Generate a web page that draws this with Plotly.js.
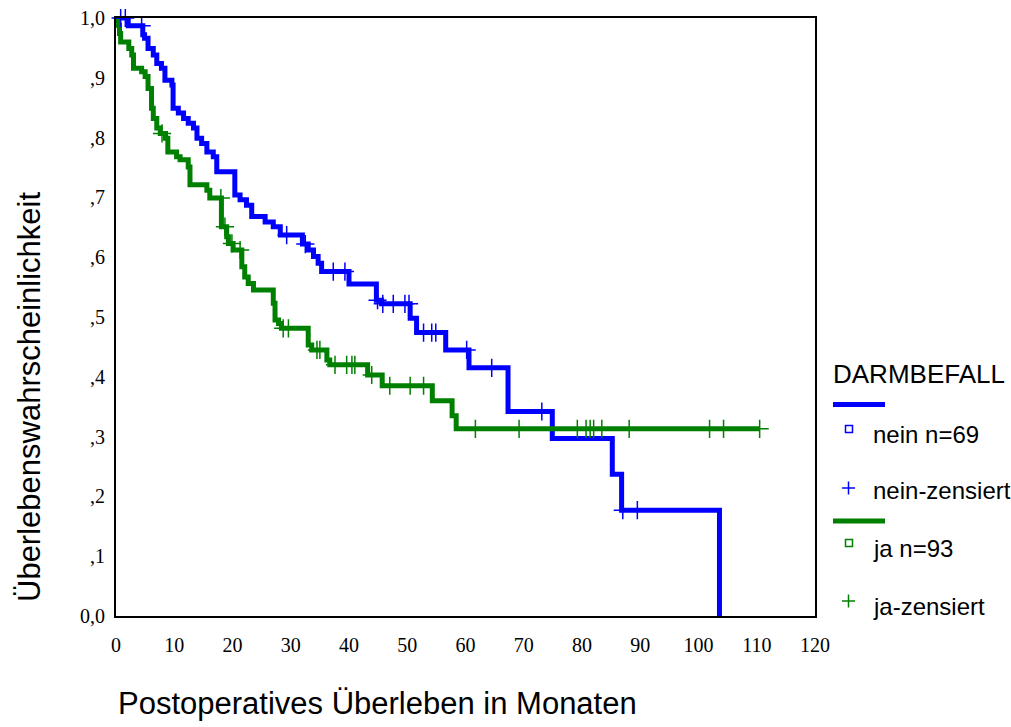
<!DOCTYPE html>
<html><head><meta charset="utf-8">
<script src="https://cdn.plot.ly/plotly-3.0.1.min.js"></script>
<style>html,body{margin:0;padding:0;background:#fff;overflow:hidden}#chart{width:1011px;height:727px}</style>
</head><body><div id="chart"></div>
<script>
// Kaplan-Meier: DARMBEFALL = nein (n=69)
const neinTime = [0, 2.1, 4.6, 4.9, 5.5, 6.4, 7.0, 7.8, 8.4, 9.6, 9.8, 10.7, 11.6, 12.4, 13.3, 13.9, 14.7, 15.6, 16.7, 17.3, 20.4, 21.3, 22.4, 23.3, 25.6, 27.0, 28.2, 32.0, 33.0, 33.9, 34.7, 35.3, 40.0, 44.7, 45.6, 50.5, 51.6, 56.6, 60.6, 67.3, 74.9, 85.2, 86.8, 103.6];
const neinSurv = [1.0, 0.987, 0.972, 0.966, 0.949, 0.938, 0.924, 0.916, 0.896, 0.888, 0.849, 0.841, 0.832, 0.824, 0.816, 0.799, 0.790, 0.776, 0.768, 0.743, 0.704, 0.696, 0.687, 0.668, 0.659, 0.651, 0.637, 0.622, 0.612, 0.601, 0.590, 0.576, 0.555, 0.528, 0.522, 0.498, 0.474, 0.445, 0.415, 0.342, 0.297, 0.237, 0.177, 0.0];
const neinCensor = [0.8, 1.6, 4.4, 29.3, 32.5, 37.3, 39.3, 44.9, 45.8, 47.6, 49.6, 50.3, 52.8, 54.2, 54.9, 60.2, 64.5, 73.1, 87.0, 89.5];

// DARMBEFALL = ja (n=93)
const jaTime = [0, 0.4, 0.6, 0.8, 2.2, 2.7, 3.0, 4.4, 5.0, 5.5, 6.1, 6.4, 7.0, 7.6, 8.5, 8.9, 10.4, 11.0, 12.4, 12.7, 15.6, 16.1, 18.1, 19.0, 19.3, 20.1, 21.6, 22.1, 22.7, 23.6, 27.0, 27.3, 27.9, 28.4, 33.0, 33.6, 36.2, 36.7, 43.2, 45.7, 54.3, 57.7, 58.4];
const jaSurv = [1.0, 0.988, 0.974, 0.960, 0.949, 0.938, 0.916, 0.910, 0.902, 0.882, 0.849, 0.832, 0.816, 0.807, 0.799, 0.776, 0.768, 0.763, 0.751, 0.721, 0.712, 0.699, 0.651, 0.634, 0.623, 0.612, 0.584, 0.567, 0.556, 0.545, 0.523, 0.495, 0.489, 0.481, 0.453, 0.445, 0.428, 0.420, 0.403, 0.385, 0.360, 0.335, 0.313];
const jaCensor = [7.9, 18.0, 18.7, 19.9, 21.3, 28.7, 29.6, 34.5, 35.0, 37.6, 39.6, 40.5, 41.0, 43.9, 47.0, 50.5, 52.8, 61.7, 69.2, 79.2, 80.7, 81.4, 82.0, 83.4, 88.1, 101.9, 104.3, 110.5];

const xTickVals = [0, 10, 20, 30, 40, 50, 60, 70, 80, 90, 100, 110, 120];
const yTickVals = [0, 0.1, 0.2, 0.3, 0.4, 0.5, 0.6, 0.7, 0.8, 0.9, 1.0];
const yTickLabels = ["0,0", ",1", ",2", ",3", ",4", ",5", ",6", ",7", ",8", ",9", "1,0"];

const xTitle = "Postoperatives Überleben in Monaten";
const yTitle = "Überlebenswahrscheinlichkeit";
const legendTitle = "DARMBEFALL";
const legendLabels = ["nein n=69", "nein-zensiert", "ja n=93", "ja-zensiert"];

const BLUE = "#0000ff", GREEN = "#008000";

function survAt(times, surv, t) {
  let s = surv[0];
  for (let i = 0; i < times.length; i++) if (times[i] <= t) s = surv[i];
  return s;
}

// plot box in pixels
const L = 116, R = 815, T = 18, B = 616, W = 1011, H = 727;
const px = v => (v - L) / (R - L);
const py = v => (B - v) / (B - T);

const jaLast = jaCensor[jaCensor.length - 1];

const traces = [
  {x: neinTime, y: neinSurv, mode: "lines", line: {shape: "hv", color: BLUE, width: 5}, hoverinfo: "skip"},
  {x: jaTime.concat([jaLast]), y: jaSurv.concat([jaSurv[jaSurv.length - 1]]), mode: "lines", line: {shape: "hv", color: GREEN, width: 5}, hoverinfo: "skip"},
  {x: neinCensor, y: neinCensor.map(t => survAt(neinTime, neinSurv, t)), mode: "markers", cliponaxis: false,
   marker: {symbol: "cross-thin", size: 13, line: {color: BLUE, width: 1.5}, color: BLUE}, hoverinfo: "skip"},
  {x: jaCensor, y: jaCensor.map(t => survAt(jaTime, jaSurv, t)), mode: "markers", cliponaxis: false,
   marker: {symbol: "cross-thin", size: 13, line: {color: GREEN, width: 1.5}, color: GREEN}, hoverinfo: "skip"}
];

const sansFont = "Liberation Sans, Arial, sans-serif";
const serifFont = "Liberation Serif, Times New Roman, serif";

const shapes = [
  // legend line swatches
  {type: "line", xref: "paper", yref: "paper", x0: px(833), x1: px(885), y0: py(404.5), y1: py(404.5), line: {color: BLUE, width: 5}},
  {type: "line", xref: "paper", yref: "paper", x0: px(833), x1: px(885), y0: py(521), y1: py(521), line: {color: GREEN, width: 5}},
  // small open squares
  {type: "rect", xref: "paper", yref: "paper", x0: px(845.5), x1: px(852.5), y0: py(425.5), y1: py(432.5), line: {color: BLUE, width: 1.5}},
  {type: "rect", xref: "paper", yref: "paper", x0: px(845.5), x1: px(852.5), y0: py(539.5), y1: py(546.5), line: {color: GREEN, width: 1.5}},
  // plus glyphs
  {type: "line", xref: "paper", yref: "paper", x0: px(842), x1: px(855), y0: py(488), y1: py(488), line: {color: BLUE, width: 1.5}},
  {type: "line", xref: "paper", yref: "paper", x0: px(848.5), x1: px(848.5), y0: py(481.5), y1: py(494.5), line: {color: BLUE, width: 1.5}},
  {type: "line", xref: "paper", yref: "paper", x0: px(842), x1: px(855), y0: py(601), y1: py(601), line: {color: GREEN, width: 1.5}},
  {type: "line", xref: "paper", yref: "paper", x0: px(848.5), x1: px(848.5), y0: py(594.5), y1: py(607.5), line: {color: GREEN, width: 1.5}}
];

const legendY = [434, 490, 548, 606];
const annotations = [
  {text: legendTitle, xref: "paper", yref: "paper", x: px(831), y: py(374), xanchor: "left", yanchor: "middle", showarrow: false, font: {family: sansFont, size: 26, color: "#000"}},
  {text: xTitle, xref: "paper", yref: "paper", x: px(377), y: py(704), xanchor: "center", yanchor: "middle", showarrow: false, font: {family: sansFont, size: 31, color: "#000"}},
  {text: yTitle, xref: "paper", yref: "paper", x: px(29), y: py(397), xanchor: "center", yanchor: "middle", textangle: -90, showarrow: false, font: {family: sansFont, size: 31, color: "#000"}}
].concat(legendLabels.map((t, i) => ({
  text: t, xref: "paper", yref: "paper", x: px(871), y: py(legendY[i]), xanchor: "left", yanchor: "middle", showarrow: false,
  font: {family: sansFont, size: 24, color: "#000"}
})));

const layout = {
  width: W, height: H,
  margin: {l: L, r: W - R, t: T, b: H - B, pad: 0},
  paper_bgcolor: "#fff", plot_bgcolor: "#fff",
  showlegend: false,
  xaxis: {range: [0, 120], tickvals: xTickVals, ticktext: xTickVals.map(String), showgrid: false, zeroline: false,
          showline: true, mirror: true, linecolor: "#000", linewidth: 2, ticks: "", ticklabelstandoff: 10,
          tickfont: {family: serifFont, size: 20, color: "#000"}},
  yaxis: {range: [0, 1], tickvals: yTickVals, ticktext: yTickLabels, showgrid: false, zeroline: false,
          showline: true, mirror: true, linecolor: "#000", linewidth: 2, ticks: "", ticklabelstandoff: 5,
          tickfont: {family: serifFont, size: 20, color: "#000"}},
  shapes: shapes,
  annotations: annotations
};

Plotly.newPlot("chart", traces, layout, {staticPlot: true, displayModeBar: false});
</script>
</body></html>
